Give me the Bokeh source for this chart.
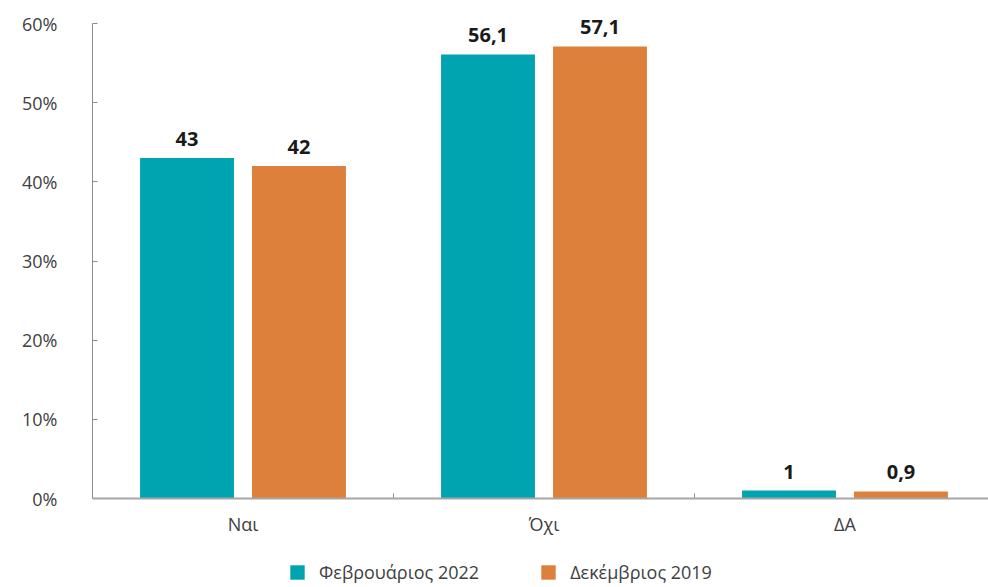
from bokeh.plotting import figure
from bokeh.models import (Range1d, FixedTicker, PrintfTickFormatter, ColumnDataSource,
                          Legend, LegendItem, LinearAxis, Span)
from bokeh.core.properties import value
from bokeh.embed import file_html
from bokeh.resources import INLINE

categories = ["Ναι", "Όχι", "ΔΑ"]
series_names = ["Φεβρουάριος 2022", "Δεκέμβριος 2019"]
feb_2022 = [43, 56.1, 1]
dec_2019 = [42, 57.1, 0.9]
colors = ["#00A4B0", "#DC803B"]
y_ticks = [0, 10, 20, 30, 40, 50, 60]

FONT = "Open Sans"

def fmt(v):
    s = f"{v:g}"
    return s.replace(".", ",")

# layout: data area 475px tall for 0..60; frame extended above (room for labels)
# and below (room for category labels + legend)
FRAME_W, DATA_H, TOP_EXT, BOTTOM_EXT = 896, 475, 15, 88
FRAME_H = TOP_EXT + DATA_H + BOTTOM_EXT
y_start = -BOTTOM_EXT * 60 / DATA_H
y_end = 60 + TOP_EXT * 60 / DATA_H

p = figure(frame_width=FRAME_W, frame_height=FRAME_H, output_backend="svg", toolbar_location=None,
           x_range=Range1d(0, FRAME_W / 301), y_range=Range1d(y_start, y_end),
           min_border_left=92, min_border_right=0, min_border_top=8, min_border_bottom=0)
p.xaxis.visible = False
p.yaxis.visible = False
p.grid.visible = False
p.outline_line_color = None

offset = 0.186
bw = 0.312
centers = [i + 0.5 for i in range(len(categories))]
separators = [float(i) for i in range(len(categories) + 1)]
renderers = []
for vals, col, sign in [(feb_2022, colors[0], -1), (dec_2019, colors[1], 1)]:
    src = ColumnDataSource(dict(x=[c + sign * offset for c in centers], top=vals,
                                lab=[fmt(v) for v in vals]))
    r = p.vbar(x="x", top="top", width=bw, bottom=0, source=src, fill_color=col, line_color=None)
    renderers.append(r)
    p.text(x="x", y="top", text="lab", source=src, text_align="center",
           text_baseline="alphabetic", y_offset=-19, text_font=value(FONT),
           text_font_style="bold", text_font_size="20px", text_color="#1a1a1a")

# y axis
ya = LinearAxis(ticker=FixedTicker(ticks=y_ticks), formatter=PrintfTickFormatter(format="%d%%"),
                bounds=(0, 60))
ya.axis_line_color = "#8c8c8c"
ya.major_tick_line_color = "#8c8c8c"
ya.major_tick_in = 5
ya.major_tick_out = 0
ya.minor_tick_line_color = None
ya.major_label_standoff = 35
ya.major_label_text_font = FONT
ya.major_label_text_font_size = "18px"
ya.major_label_text_color = "#404040"
p.add_layout(ya, "left")

# category (x) axis drawn at y = 0
p.add_layout(Span(location=0, dimension="width", line_color="#a6a6a6", line_width=2))
p.ray(x=separators, y=[0] * len(separators), length=5, length_units="screen",
      angle=90, angle_units="deg", line_color="#8c8c8c", line_width=1)
p.text(x=centers, y=[0] * len(centers), text=categories, text_align="center",
       text_baseline="top", y_offset=13, text_font=value(FONT),
       text_font_size="18px", text_color="#404040")

legend = Legend(items=[LegendItem(label=n, renderers=[r]) for n, r in zip(series_names, renderers)],
                orientation="horizontal", location=(196, 2))
legend.border_line_color = None
legend.background_fill_alpha = 0
legend.glyph_width = 18
legend.glyph_height = 18
legend.label_standoff = 13
legend.spacing = 60
legend.padding = 0
legend.margin = 0
legend.label_text_font = FONT
legend.label_text_font_size = "18px"
legend.label_text_color = "#404040"
p.add_layout(legend, "center")

open("out.html", "w").write(file_html(p, INLINE))
